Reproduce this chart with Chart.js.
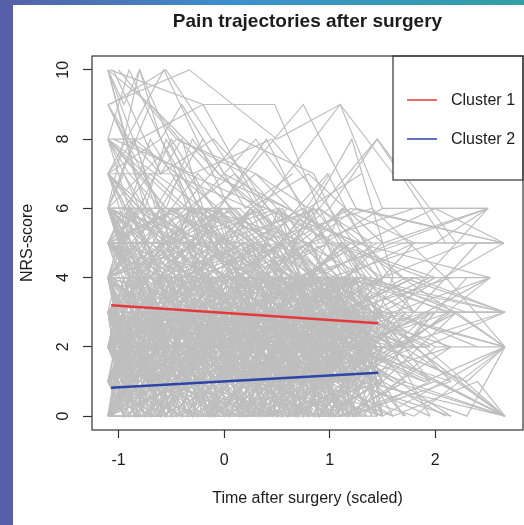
<!DOCTYPE html>
<html>
<head>
<meta charset="utf-8">
<script src="https://cdn.jsdelivr.net/npm/chart.js@4.4.1/dist/chart.umd.min.js"></script>
<style>
  html, body { margin: 0; padding: 0; background: #fff; }
  #wrap { position: relative; width: 524px; height: 525px; overflow: hidden; background: #fff; }
  #sideBar { position: absolute; left: 0; top: 0; width: 13px; height: 525px; background: #5560a8; }
  #topBar { position: absolute; left: 0; top: 0; width: 524px; height: 5px;
            background: linear-gradient(to right, #5560a8, #3d90cd 45%, #33a0a6); }
  canvas { position: absolute; left: 0; top: 0; }
</style>
</head>
<body>
<div id="wrap">
  <div id="sideBar"></div>
  <div id="topBar"></div>
  <canvas id="myChart" width="524" height="525"></canvas>
</div>
<script>
// axis setup
const xTicks = [-1, 0, 1, 2];
const yTicks = [0, 2, 4, 6, 8, 10];
const xRange = [-1.251, 2.831];
const yRange = [-0.4, 10.4];

// patient trajectories, each one is time,score,time,score,...
const highStart = [
  [-1.1,10,-0.75,6,-0.2,5,0.45,4,1.1,3],
  [-1.08,9,-0.55,10,0.1,7,0.75,5,1.35,4],
  [-1.1,8,-0.9,10,-0.3,6,0.3,8,1.0,5,1.45,3],
  [-1.05,10,-0.6,7,-0.1,8,0.5,6,1.2,4],
  [-1.1,7,-0.57,10,0.05,6,0.6,4,1.3,2],
  [-1.1,9,-0.33,10,0.5,8,1.1,9,1.5,6],
  [-1.1,8,-0.8,8,-0.2,9,0.48,9,0.9,6,1.45,8,2.1,5],
  [-1.0,10,-0.45,8,0.2,7,0.75,9,1.25,6,2.65,5],
  [-1.1,6,-0.7,9,-0.05,7,0.65,5,1.21,8,1.6,4],
  [-1.1,10,-0.85,7,-0.4,4,0.3,5,0.95,3,1.4,2],
  [-1.1,7,-0.5,7,0.25,6,0.8,7,1.5,5,2.5,6],
  [-1.1,8,-0.65,5,0.0,6,0.7,4,1.3,5],
  [-1.1,9,-0.95,8,-0.35,7,0.4,6,1.05,5,2.0,4],
  [-1.08,10,-0.2,9,0.35,6,1.1,9,1.6,7,2.7,7],
  [-1.1,7,-0.6,8,0.15,4,0.9,6,1.45,3],
  [-1.1,8,-0.4,6,0.15,8,0.85,7,1.3,4,2.3,3],
  [-1.1,6,-0.8,10,-0.1,5,0.55,6,1.2,3],
  [-1.1,10,-0.5,5,0.1,3,0.8,4,1.35,2],
  [-1.1,7,-0.75,5,-0.25,7,0.4,5,0.98,7,1.5,4],
  [-1.1,9,-0.6,6,0.0,4,0.6,6,1.25,5,2.52,4],
  [-1.05,8,-0.3,7,0.45,8,1.0,6,1.45,8,2.2,5],
  [-1.1,6,-0.45,8,0.3,7,0.95,5,1.5,6,2.49,6],
  [-1.1,7,-0.85,6,-0.3,5,0.2,7,0.85,4,1.4,3],
  [-1.1,10,-0.7,9,-0.15,7,0.6,6,1.2,5],
  [-1.1,8,-0.55,6,0.05,5,0.7,3,1.3,4,2.66,3],
  [-1.1,7,-0.8,6,-0.5,8,-0.1,6,0.3,7,0.8,6,1.3,7],
  [-1.1,8,-0.9,7,-0.6,6,-0.2,8,0.2,6,0.65,7],
  [-1.1,6,-0.85,8,-0.45,7,-0.05,6,0.4,8,0.9,5],
  [-1.1,7,-0.95,6,-0.7,7,-0.35,6,0.1,7,0.55,5,1.0,7],
  [-1.1,8,-0.9,6,-0.7,8,-0.5,7,-0.3,6,0.0,5,0.4,4],
  [-1.1,6,-0.95,7,-0.75,6,-0.55,8,-0.35,7,-0.1,6,0.3,5],
  [-1.1,7,-0.85,8,-0.65,6,-0.45,7,-0.25,5,0.05,6,0.5,4],
  [-1.1,9,-0.9,8,-0.6,7,-0.4,8,-0.2,6,0.2,5,0.7,3],
  [-1.1,8,-0.8,7,-0.55,6,-0.3,8,-0.05,7,0.35,6,0.85,4],
  [-1.1,10,-0.95,9,-0.8,10,-0.6,8,-0.4,9,0.0,7,0.6,6]
];

const midStart = [
  [-1.1,6,-0.7,5,-0.2,4,0.4,5,1.0,3,1.45,4],
  [-1.1,5,-0.8,4,-0.3,6,0.25,3,0.9,4,1.4,2],
  [-1.1,4,-0.6,6,0.0,5,0.65,3,1.2,4],
  [-1.1,6,-0.9,6,-0.4,3,0.2,4,0.8,2,1.35,3],
  [-1.1,5,-0.5,5,0.1,6,0.7,4,1.3,5],
  [-1.1,4,-0.85,3,-0.25,5,0.35,4,1.05,2,1.5,3],
  [-1.1,6,-0.65,4,-0.05,4,0.55,5,1.15,3],
  [-1.1,5,-0.75,6,-0.15,3,0.45,2,1.0,4,1.45,1],
  [-1.1,4,-0.4,4,0.2,5,0.85,6,1.4,4],
  [-1.1,6,-0.95,5,-0.5,5,0.05,4,0.6,3,1.25,2],
  [-1.1,5,-0.7,3,-0.1,4,0.5,3,1.1,5,1.5,3],
  [-1.1,4,-0.55,5,0.15,3,0.75,4,1.3,2],
  [-1.1,6,-0.3,6,0.3,5,0.9,4,1.45,5],
  [-1.1,5,-0.9,5,-0.35,4,0.25,6,0.95,3,1.4,4],
  [-1.1,4,-0.8,6,-0.2,5,0.4,3,1.05,3],
  [-1.1,6,-0.6,3,0.0,2,0.6,3,1.2,1],
  [-1.1,5,-0.45,6,0.1,4,0.8,5,1.35,3],
  [-1.1,4,-0.7,4,-0.05,3,0.55,4,1.15,2,1.5,2],
  [-1.1,6,-0.85,4,-0.25,6,0.35,4,1.0,5],
  [-1.1,5,-0.5,4,0.2,5,0.7,2,1.25,3],
  [-1.1,4,-0.95,5,-0.4,2,0.15,3,0.85,4,1.45,2],
  [-1.1,6,-0.75,5,-0.1,5,0.45,3,1.1,4],
  [-1.1,5,-0.65,3,0.05,5,0.65,4,1.3,4],
  [-1.1,4,-0.35,5,0.3,4,0.95,3,1.4,5],
  [-1.1,6,-0.55,6,0.1,5,0.75,6,1.2,4],
  [-1.1,5,-0.8,5,-0.3,3,0.25,4,0.8,5,1.35,2],
  [-1.1,4,-0.6,3,0.0,4,0.6,2,1.2,3],
  [-1.1,6,-0.9,4,-0.45,4,0.2,3,0.9,3,1.5,4],
  [-1.1,5,-0.7,4,-0.15,6,0.5,5,1.05,4],
  [-1.1,4,-0.5,6,0.15,6,0.7,4,1.3,3],
  [-1.1,5,-0.25,4,0.4,4,1.0,2,1.45,3],
  [-1.1,6,-0.8,3,-0.2,4,0.35,5,0.95,2],
  [-1.1,4,-0.65,4,-0.05,5,0.55,3,1.15,4,1.5,5],
  [-1.1,5,-0.95,6,-0.4,5,0.1,3,0.75,3,1.25,4],
  [-1.1,6,-0.5,5,0.2,3,0.85,4,1.4,3],
  [-1.1,4,-0.75,5,-0.3,4,0.3,6,0.9,4],
  [-1.1,5,-0.55,5,0.05,2,0.6,4,1.2,2],
  [-1.1,6,-0.7,6,-0.1,4,0.5,4,1.1,3],
  [-1.1,4,-0.85,4,-0.35,3,0.25,5,0.8,3,1.35,4],
  [-1.1,5,-0.6,4,0.0,4,0.65,5,1.3,2],
  [-1.1,5,-0.8,6,-0.45,4,-0.05,6,0.35,4,0.8,5,1.25,6],
  [-1.1,6,-0.85,4,-0.5,6,-0.1,5,0.3,6,0.75,4,1.2,5],
  [-1.1,4,-0.9,6,-0.55,5,-0.15,4,0.25,6,0.7,5,1.15,6],
  [-1.1,5,-0.7,4,-0.3,6,0.1,4,0.55,5,1.0,6,1.45,4],
  [-1.1,6,-0.75,5,-0.35,6,0.05,5,0.45,4,0.9,6,1.4,5]
];

const lowStart = [
  [-1.1,3,-0.7,2,-0.2,3,0.4,1,1.0,2,1.45,1],
  [-1.1,2,-0.8,3,-0.3,1,0.3,2,0.9,0,1.4,2],
  [-1.1,1,-0.6,2,0.0,1,0.6,3,1.2,2],
  [-1.1,0,-0.9,1,-0.4,0,0.2,2,0.8,1,1.35,0],
  [-1.1,3,-0.5,3,0.1,2,0.7,2,1.3,3],
  [-1.1,2,-0.85,0,-0.25,2,0.35,1,1.05,3,1.5,1],
  [-1.1,1,-0.65,1,-0.05,3,0.55,2,1.15,1],
  [-1.1,0,-0.75,2,-0.15,1,0.45,0,1.0,1,1.45,2],
  [-1.1,3,-0.4,2,0.2,3,0.85,1,1.4,2],
  [-1.1,2,-0.95,2,-0.5,3,0.05,1,0.6,2,1.25,0],
  [-1.1,1,-0.7,0,-0.1,2,0.5,3,1.1,1,1.5,2],
  [-1.1,0,-0.55,1,0.15,0,0.75,2,1.3,1],
  [-1.1,3,-0.3,1,0.3,2,0.9,3,1.45,2],
  [-1.1,2,-0.9,3,-0.35,2,0.25,0,0.95,1,1.4,3],
  [-1.1,1,-0.8,2,-0.2,0,0.4,1,1.05,0],
  [-1.1,0,-0.6,0,0.0,1,0.6,1,1.2,2],
  [-1.1,3,-0.45,0,0.1,1,0.8,0,1.35,1],
  [-1.1,2,-0.7,1,-0.05,2,0.55,1,1.15,3,1.5,2],
  [-1.1,1,-0.85,3,-0.25,1,0.35,3,1.0,2],
  [-1.1,0,-0.5,2,0.2,2,0.7,1,1.25,0],
  [-1.1,3,-0.95,2,-0.4,1,0.15,2,0.85,2,1.45,0],
  [-1.1,2,-0.75,2,-0.1,3,0.45,2,1.1,1],
  [-1.1,1,-0.65,0,0.05,2,0.65,0,1.3,1],
  [-1.1,0,-0.35,1,0.3,0,0.95,2,1.4,1],
  [-1.1,3,-0.55,2,0.1,0,0.75,3,1.2,2],
  [-1.1,2,-0.8,0,-0.3,1,0.25,1,0.8,3,1.35,1],
  [-1.1,1,-0.6,3,0.0,0,0.6,2,1.2,0],
  [-1.1,0,-0.9,0,-0.45,2,0.2,1,0.9,0,1.5,1],
  [-1.1,3,-0.7,3,-0.15,0,0.5,1,1.05,2],
  [-1.1,2,-0.5,1,0.15,3,0.7,0,1.3,2],
  [-1.1,1,-0.25,2,0.4,2,1.0,0,1.45,1],
  [-1.1,0,-0.8,1,-0.2,3,0.35,2,0.95,1],
  [-1.1,3,-0.65,1,-0.05,1,0.55,3,1.15,0,1.5,3],
  [-1.1,2,-0.95,1,-0.4,0,0.1,0,0.75,1,1.25,2],
  [-1.1,1,-0.5,1,0.2,1,0.85,3,1.4,0],
  [-1.1,0,-0.75,3,-0.3,0,0.3,3,0.9,2],
  [-1.1,3,-0.55,0,0.05,3,0.6,1,1.2,1],
  [-1.1,2,-0.7,2,-0.1,0,0.5,2,1.1,0],
  [-1.1,1,-0.85,1,-0.35,3,0.25,0,0.8,2,1.35,3],
  [-1.1,0,-0.6,2,0.0,0,0.65,1,1.3,3],
  [-1.1,3,-0.9,1,-0.25,2,0.4,0,1.0,1],
  [-1.1,2,-0.4,3,0.25,1,0.85,0,1.45,0],
  [-1.1,1,-0.7,3,-0.05,1,0.55,1,1.15,2],
  [-1.1,0,-0.45,0,0.15,2,0.75,3,1.35,2],
  [-1.1,3,-0.8,3,-0.2,2,0.35,3,0.95,0,1.5,1],
  [-1.1,2,-0.6,0,0.0,3,0.6,0,1.25,1],
  [-1.1,1,-0.95,0,-0.45,1,0.1,3,0.7,2,1.3,0],
  [-1.1,0,-0.7,1,-0.15,0,0.45,3,1.05,1],
  [-1.1,3,-0.35,3,0.3,1,0.9,2,1.4,3],
  [-1.1,2,-0.85,2,-0.3,3,0.2,3,0.8,0],
  [-1.1,1,-0.55,2,0.1,2,0.7,3,1.2,1],
  [-1.1,0,-0.65,3,-0.05,2,0.5,0,1.1,2],
  [-1.1,3,-0.75,0,-0.1,3,0.55,2,1.25,3],
  [-1.1,2,-0.5,2,0.2,0,0.8,1,1.35,2],
  [-1.1,1,-0.9,2,-0.3,0,0.3,1,0.95,3,1.5,0],
  [-1.1,0,-0.4,3,0.25,1,0.85,1,1.45,3],
  [-1.1,3,-0.6,1,0.05,0,0.65,2,1.15,1],
  [-1.1,2,-0.8,1,-0.2,1,0.4,3,1.0,0],
  [-1.1,1,-0.45,3,0.15,1,0.75,1,1.3,3],
  [-1.1,0,-0.95,2,-0.35,1,0.2,0,0.9,3,1.4,1],
  [-1.1,2,-0.2,2,0.5,1,1.2,1],
  [-1.1,1,-0.3,1,0.4,2,1.3,2],
  [-1.1,0,-0.5,0,0.3,0,1.0,1,1.5,0],
  [-1.1,3,-0.6,3,0.1,3,0.9,2],
  [-1.1,2,-0.9,1,-0.6,2,-0.3,0,0.1,2,0.45,1,0.9,2,1.3,1],
  [-1.1,1,-0.95,3,-0.6,1,-0.2,2,0.2,0,0.6,3,1.0,1,1.45,2],
  [-1.1,3,-0.85,1,-0.55,3,-0.15,1,0.3,3,0.7,1,1.1,3,1.5,2],
  [-1.1,0,-0.8,2,-0.45,1,-0.05,3,0.35,1,0.75,2,1.2,0],
  [-1.1,2,-0.7,0,-0.35,3,0.05,2,0.45,0,0.85,3,1.3,1],
  [-1.1,4,-0.75,2,-0.4,3,0.0,1,0.4,3,0.8,2,1.25,4],
  [-1.1,3,-0.9,4,-0.5,2,-0.1,4,0.3,2,0.8,3,1.4,1],
  [-1.1,1,-0.65,4,-0.25,2,0.15,4,0.55,1,0.95,4,1.45,2],
  [-1.1,2,-0.8,4,-0.4,1,0.05,4,0.45,3,0.95,1,1.35,4],
  [-1.1,4,-0.85,0,-0.45,4,0.0,0,0.5,4,1.0,0,1.45,3],
  [-1.1,0,-0.9,4,-0.5,0,-0.05,3,0.4,4,0.9,1,1.35,3],
  [-1.1,3,-0.95,0,-0.6,3,-0.2,4,0.25,0,0.65,2,1.05,4,1.5,0],
  [-1.1,4,-0.7,1,-0.3,4,0.1,1,0.5,2,0.95,4,1.4,0],
  [-1.1,1,-0.75,4,-0.35,0,0.1,4,0.6,0,1.05,3,1.5,1],
  [-1.1,2,-0.55,4,-0.1,0,0.3,4,0.7,1,1.15,4,1.45,0],
  [-1.1,4,-0.9,2,-0.55,0,-0.15,2,0.2,4,0.6,0,1.0,3,1.4,2],
  [-1.1,0,-0.65,2,-0.25,4,0.2,3,0.65,0,1.1,2,1.45,4],
  [-1.1,3,-0.8,2,-0.4,4,0.0,2,0.35,0,0.8,4,1.2,1],
  [-1.1,2,-0.85,3,-0.5,4,-0.05,0,0.4,2,0.85,0,1.25,3],
  [-1.1,1,-0.7,2,-0.3,3,0.15,0,0.55,4,1.0,2,1.45,1],
  [-1.1,4,-0.6,0,-0.2,3,0.25,2,0.7,0,1.15,1],
  [-1.1,3,-0.75,4,-0.35,1,0.05,0,0.5,3,0.9,4,1.35,0],
  [-1.1,0,-0.55,3,-0.15,4,0.3,1,0.75,4,1.2,3],
  [-1.1,1,-0.9,0,-0.5,3,-0.1,1,0.35,2,0.75,0,1.15,2,1.5,3],
  [-1.1,2,-0.95,4,-0.65,0,-0.25,1,0.2,2,0.6,4,1.1,0],
  [-1.1,4,-0.8,3,-0.45,2,-0.05,4,0.4,0,0.85,2,1.3,0]
];

const lateFollowUp = [
  [-1.1,2,-0.4,3,0.5,2,1.3,1,2.66,0],
  [-1.1,4,-0.2,2,0.8,3,1.6,1,2.66,0],
  [-1.1,1,0.0,1,1.0,2,1.9,2,2.66,0],
  [-1.1,3,-0.6,4,0.3,3,1.2,5,2.66,2],
  [-1.1,5,-0.3,3,0.6,4,1.4,3,2.66,2],
  [-1.1,2,-0.5,2,0.4,1,1.5,0,2.66,2],
  [-1.1,6,-0.1,5,0.9,6,1.7,4,2.66,3],
  [-1.1,4,-0.7,3,0.2,2,1.1,4,2.66,3],
  [-1.1,3,0.1,4,1.0,1,2.2,3,2.66,3],
  [-1.1,5,-0.4,6,0.7,5,1.5,3,2.65,5],
  [-1.1,7,0.0,4,1.2,6,2.65,5],
  [-1.1,2,-0.3,0,0.6,2,1.5,4,2.52,4],
  [-1.1,6,-0.5,4,0.5,3,1.3,2,2.52,4],
  [-1.1,3,0.2,2,1.2,3,2.2,1,2.66,0],
  [-1.1,8,-0.2,6,0.8,5,1.8,6,2.5,6],
  [-1.1,0,-0.6,1,0.4,0,1.4,1,2.3,0,2.66,2],
  [-1.1,4,-0.1,3,0.9,2,1.9,3,2.66,3],
  [-1.1,1,-0.5,2,0.5,3,1.6,2,2.66,3],
  [-1.1,5,0.3,5,1.4,6,2.1,4,2.66,2],
  [-1.1,3,-0.3,5,0.7,4,1.7,5,2.65,5],
  [-1.1,2,0.1,0,1.1,0,2.0,1,2.66,0],
  [-1.1,6,-0.6,3,0.6,2,1.5,3,2.66,3],
  [-1.1,0,-0.2,2,0.8,1,1.8,0,2.66,2],
  [-1.1,4,0.0,6,1.0,4,2.0,5,2.5,6],
  [-1.1,1,-0.4,0,0.6,3,1.4,2,2.66,0],
  [-1.1,5,-0.4,4,0.5,5,1.45,5,2.65,5],
  [-1.1,3,-0.2,1,0.9,2,1.7,3,2.3,3,2.66,3],
  [-1.1,3,-0.5,2,0.4,3,1.3,2,2.0,1,2.66,0],
  [-1.1,2,-0.3,4,0.6,2,1.5,3,2.66,2],
  [-1.1,4,-0.6,2,0.3,4,1.2,3,1.9,2,2.66,3],
  [-1.1,1,-0.2,3,0.7,1,1.6,0,2.4,1,2.66,0],
  [-1.1,5,-0.4,3,0.5,4,1.4,4,2.2,3,2.66,2],
  [-1.1,3,-0.7,1,0.2,2,1.1,1,1.8,2,2.66,0],
  [-1.1,6,-0.3,4,0.8,4,1.6,5,2.5,6],
  [-1.1,2,-0.6,4,0.1,3,1.0,4,1.7,2,2.52,4],
  [-1.1,4,-0.2,5,0.6,3,1.3,4,2.1,3,2.66,3],
  [-1.1,0,-0.4,2,0.5,1,1.4,3,2.0,2,2.66,2],
  [-1.1,7,-0.5,5,0.4,6,1.3,5,2.0,6,2.65,5],
  [-1.1,3,0.0,3,0.9,2,1.7,1,2.66,0],
  [-1.1,5,-0.6,4,0.2,5,1.1,3,1.8,4,2.66,3],
  [-1.1,1,-0.3,1,0.6,0,1.5,2,2.3,1,2.66,2],
  [-1.1,2,-0.5,3,0.3,2,1.2,2,2.0,3,2.66,3],
  [-1.1,4,-0.1,2,0.9,3,1.8,2,2.66,0],
  [-1.1,6,-0.4,5,0.5,6,1.5,4,2.3,5,2.65,5],
  [-1.1,3,-0.2,4,0.7,2,1.6,3,2.52,4],
  [-1.1,2,-0.7,1,0.2,3,1.0,2,1.9,1,2.66,2],
  [-1.1,5,0.1,4,1.0,5,1.9,4,2.5,6],
  [-1.1,2,-0.3,3,0.6,1,1.4,2,1.9,4],
  [-1.1,4,-0.4,2,0.5,3,1.3,4,2.1,2],
  [-1.1,1,-0.2,0,0.7,2,1.5,1,2.2,3],
  [-1.1,3,0.0,2,0.9,4,1.6,3,2.4,2],
  [-1.1,5,-0.5,3,0.4,2,1.2,3,1.8,5],
  [-1.1,0,-0.6,2,0.3,1,1.3,0,2.0,2],
  [-1.1,2,-0.1,1,0.8,3,1.7,2,2.3,4],
  [-1.1,6,-0.3,4,0.6,5,1.4,3,2.0,4],
  [-1.1,3,-0.5,1,0.5,0,1.5,1,2.1,0],
  [-1.1,1,-0.4,3,0.4,4,1.2,2,1.9,1],
  [-1.1,4,0.1,3,1.0,1,1.8,3,2.4,5],
  [-1.1,2,-0.6,4,0.2,2,1.1,3,1.7,0],
  [-1.1,5,-0.2,6,0.7,4,1.6,2,2.2,3],
  [-1.1,3,-0.4,2,0.5,4,1.4,1,2.0,3],
  [-1.1,0,-0.3,1,0.6,0,1.5,2,2.3,1]
];

// patients scored on a fixed visit schedule: times, then scores per patient
const scheduleA = [-1.1,-0.82,-0.55,-0.25,0.05,0.33,0.62,0.9,1.18,1.45];
const scheduleB = [-1.1,-0.9,-0.62,-0.35,-0.08,0.22,0.5,0.8,1.1,1.72];
const scheduleC = [-1.1,-0.75,-0.45,-0.15,0.15,0.42,0.7,1.0,1.25,1.5];
const scheduleD = [-1.05,-0.8,-0.5,-0.2,0.1,0.38,0.68,0.95,1.22,1.95];
const scheduleE = [-1.1,-0.95,-0.7,-0.4,-0.12,0.18,0.46,0.75,1.05,1.6];
const scheduleF = [-1.08,-0.85,-0.6,-0.3,0.0,0.28,0.55,0.85,1.15,2.15];
const scheduleG = [-1.1,-0.88,-0.6,-0.32,-0.05,0.25,0.52,0.82,1.12,1.8];

const scoresA = [
  [2,4,1,3,0,2,4,1,3,2], [3,1,4,2,3,0,2,3,1,0], [1,3,0,2,4,1,3,0,2,3],
  [0,2,3,0,1,3,0,2,4,1], [4,2,0,3,2,4,1,3,0,2], [5,3,4,1,2,3,2,0,1,3],
  [2,0,2,4,1,0,3,2,4,0], [3,4,2,1,3,4,0,1,2,1], [1,0,3,3,0,2,1,4,0,2],
  [6,4,5,3,4,2,3,1,2,2], [0,3,1,4,2,1,4,0,3,0], [4,5,3,2,4,3,5,2,3,1]
];
const scoresB = [
  [3,0,2,1,4,2,0,3,1,2], [1,4,3,0,2,3,1,2,0,3], [2,1,0,4,3,0,2,4,3,1],
  [0,3,2,2,0,4,3,1,2,0], [4,1,3,0,1,2,4,0,3,4], [5,6,4,5,3,4,5,3,4,2],
  [2,3,4,1,0,1,2,3,0,1], [3,2,1,3,4,0,1,0,4,2], [1,2,4,2,1,3,0,4,1,3],
  [0,1,0,3,2,1,3,2,0,1], [6,5,3,4,6,3,2,4,3,2], [2,4,0,1,3,4,0,1,2,0]
];
const scoresC = [
  [1,3,2,4,0,1,3,2,0,2], [4,2,3,1,3,0,2,1,3,1], [0,1,4,0,2,3,1,0,2,3],
  [2,0,1,3,1,4,0,3,4,0], [3,4,0,2,4,2,4,1,1,2], [5,4,6,3,5,4,3,4,2,3],
  [1,2,3,0,3,2,1,4,3,1], [3,1,2,4,0,3,0,2,1,4], [0,4,1,2,1,0,2,3,0,1],
  [2,3,4,3,2,1,4,0,2,2], [4,0,2,1,4,3,1,2,4,0], [7,5,4,6,4,5,3,4,3,3]
];
const scoresD = [
  [2,1,3,0,2,4,2,1,3,1], [0,3,1,2,4,1,0,3,2,2], [3,2,4,1,0,2,3,0,1,3],
  [1,4,0,3,1,3,2,4,0,1], [4,3,2,4,3,0,1,2,4,0], [2,0,3,2,1,2,4,1,2,3],
  [6,4,5,6,4,3,5,4,3,4], [1,2,0,1,3,4,0,3,1,0], [3,1,2,3,0,1,4,2,3,2],
  [0,2,4,0,2,3,1,0,4,1], [5,3,2,4,3,2,3,1,2,1], [2,4,1,2,4,0,2,3,0,3]
];
const scoresE = [
  [3,2,0,1,3,2,4,0,2,1], [1,0,3,4,1,0,2,3,4,2], [2,4,1,2,0,3,1,2,0,3],
  [0,1,2,0,4,1,3,4,1,0], [4,3,4,3,2,4,0,1,3,2], [2,1,3,2,3,0,2,1,0,4],
  [5,6,4,3,5,4,4,2,3,3], [1,3,0,4,2,1,3,0,2,1], [3,0,2,1,0,2,0,4,3,0],
  [0,2,1,3,1,3,2,1,0,2], [6,5,6,4,5,5,3,4,4,2], [4,2,3,0,4,1,1,3,1,3]
];
const scoresF = [
  [1,2,4,0,3,1,2,0,3,2], [3,4,2,1,0,2,4,3,1,0], [0,1,3,2,4,0,1,2,4,1],
  [2,3,0,4,1,3,0,4,2,3], [4,0,1,3,2,4,3,1,0,2], [5,4,3,5,2,3,4,3,2,1],
  [2,2,1,0,4,2,1,0,3,4], [3,1,4,2,1,0,3,2,0,1], [1,3,2,3,0,1,4,1,2,0],
  [0,0,2,1,3,2,0,3,1,2], [6,6,4,5,4,3,5,3,4,3], [4,1,0,2,3,4,2,4,1,3]
];
const scoresG = [
  [5,4,6,5,3,4,6,4,5,3], [4,6,5,3,5,6,4,5,3,4], [6,5,4,6,4,3,5,6,4,2],
  [5,3,5,4,6,5,3,4,6,5], [4,5,3,6,5,4,6,3,4,3], [6,4,6,4,3,5,4,5,3,4],
  [3,6,4,5,4,6,5,4,5,2], [5,5,6,3,6,4,4,6,4,5], [7,5,4,5,6,3,5,4,3,4],
  [4,4,5,6,3,5,3,5,6,3]
];

// the two fitted cluster means
const clusterTimes = [-1.07, 1.46];
const cluster1 = [3.2, 2.68];
const cluster2 = [0.82, 1.25];
const clusterNames = ["Cluster 1", "Cluster 2"];
const clusterColors = ["#e3393b", "#2c45a6"];

const greyLine = "#bebebe";
const inkColor = "#1c1c1c";

function toPoints(flat) {
  const pts = [];
  for (let i = 0; i < flat.length; i += 2) {
    pts.push({ x: flat[i], y: flat[i + 1] });
  }
  return pts;
}

function greySet(points) {
  return {
    data: points,
    order: 1,
    showLine: true,
    borderColor: greyLine,
    borderWidth: 1.2,
    pointRadius: 0,
    pointHoverRadius: 0
  };
}

const datasets = [];

highStart.concat(midStart, lowStart, lateFollowUp).forEach(t => {
  datasets.push(greySet(toPoints(t)));
});

[[scheduleA, scoresA], [scheduleB, scoresB], [scheduleC, scoresC], [scheduleD, scoresD],
 [scheduleE, scoresE], [scheduleF, scoresF], [scheduleG, scoresG]].forEach(([times, group]) => {
  group.forEach(scores => {
    datasets.push(greySet(times.map((t, j) => ({ x: t, y: scores[j] }))));
  });
});

// cluster means go on top (lower order is drawn last)
[cluster1, cluster2].forEach((vals, i) => {
  datasets.push({
    label: clusterNames[i],
    data: clusterTimes.map((t, j) => ({ x: t, y: vals[j] })),
    order: 0,
    showLine: true,
    borderColor: clusterColors[i],
    borderWidth: 2.5,
    pointRadius: 0,
    pointHoverRadius: 0
  });
});

// box round the plot and the R-style legend in the top right corner
const boxAndLegend = {
  id: "boxAndLegend",
  afterDatasetsDraw(chart) {
    const ctx = chart.ctx;
    const area = chart.chartArea;
    ctx.save();

    const lx = 393, ly = area.top, lw = area.right - 393, lh = 180 - area.top;
    ctx.fillStyle = "#fff";
    ctx.fillRect(lx, ly, lw, lh);
    ctx.strokeStyle = "#333";
    ctx.lineWidth = 1.2;
    ctx.strokeRect(lx, ly, lw, lh);

    const rows = [100, 139];
    ctx.font = "16px 'Liberation Sans', Arial, sans-serif";
    ctx.textBaseline = "middle";
    ctx.textAlign = "left";
    clusterNames.forEach((name, i) => {
      ctx.strokeStyle = clusterColors[i];
      ctx.lineWidth = 1.5;
      ctx.beginPath();
      ctx.moveTo(407, rows[i]);
      ctx.lineTo(437, rows[i]);
      ctx.stroke();
      ctx.fillStyle = inkColor;
      ctx.fillText(name, 451, rows[i] + 1);
    });

    ctx.strokeStyle = "#333";
    ctx.lineWidth = 1.2;
    ctx.strokeRect(area.left, area.top, area.right - area.left, area.bottom - area.top);
    ctx.restore();
  }
};

Chart.defaults.font.family = "'Liberation Sans', Arial, sans-serif";
Chart.defaults.color = inkColor;

const ctx = document.getElementById("myChart").getContext("2d");
new Chart(ctx, {
  type: "scatter",
  data: { datasets: datasets },
  options: {
    responsive: false,
    animation: false,
    layout: { padding: { left: 0, right: 1, top: 0, bottom: 0 } },
    plugins: {
      legend: { display: false },
      tooltip: { enabled: false },
      title: {
        display: true,
        fullSize: false,
        text: "Pain trajectories after surgery",
        color: inkColor,
        font: { size: 19, weight: "bold" },
        padding: { top: 10.6, bottom: 22.6 }
      }
    },
    scales: {
      x: {
        type: "linear",
        min: xRange[0],
        max: xRange[1],
        afterBuildTicks: s => { s.ticks = xTicks.map(v => ({ value: v })); },
        afterFit: s => { s.height = 95; },
        grid: { drawOnChartArea: false, tickLength: 8, tickColor: "#333", tickWidth: 1.2 },
        border: { display: false },
        ticks: { color: inkColor, font: { size: 16 }, padding: 13.4, maxRotation: 0 },
        title: {
          display: true,
          text: "Time after surgery (scaled)",
          color: inkColor,
          font: { size: 16 },
          padding: { top: 0, bottom: 16.4 }
        }
      },
      y: {
        type: "linear",
        min: yRange[0],
        max: yRange[1],
        afterBuildTicks: s => { s.ticks = yTicks.map(v => ({ value: v })); },
        afterFit: s => { s.width = 92; },
        grid: { drawOnChartArea: false, tickLength: 9, tickColor: "#333", tickWidth: 1.2 },
        border: { display: false },
        ticks: { color: inkColor, font: { size: 16 }, padding: 11, minRotation: 90, maxRotation: 90, crossAlign: "center" },
        title: {
          display: true,
          text: "NRS-score",
          color: inkColor,
          font: { size: 16 },
          padding: { top: 18.4, bottom: 0 }
        }
      }
    }
  },
  plugins: [boxAndLegend]
});
</script>
</body>
</html>
